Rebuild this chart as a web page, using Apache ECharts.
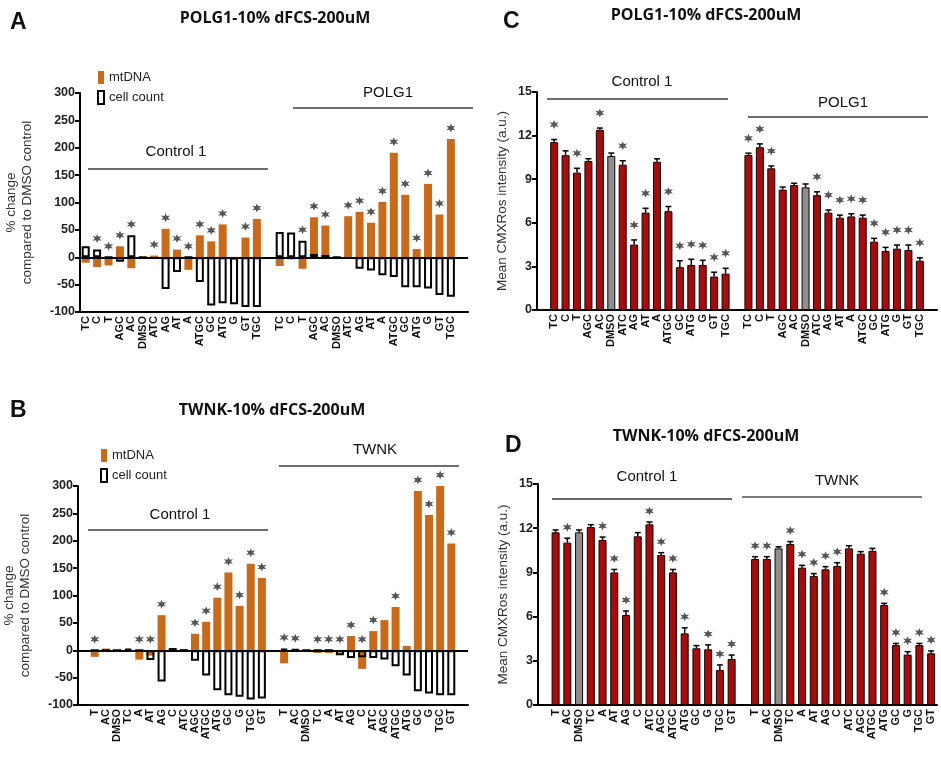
<!DOCTYPE html>
<html><head><meta charset="utf-8">
<script src="https://cdn.jsdelivr.net/npm/echarts@6/dist/echarts.min.js"></script>
<style>html,body{margin:0;padding:0;background:#fff}#c{width:941px;height:760px}</style>
</head><body><div id="c"></div>
<script>
// ---------- categories ----------
const catsAC = ['TC','C','T','AGC','AC','DMSO','ATC','AG','AT','A','ATGC','GC','ATG','G','GT','TGC'];
const catsBD = ['T','AC','DMSO','TC','A','AT','AG','C','ATC','AGC','ATGC','ATG','GC','G','TGC','GT'];
const yTicksAB = [-100, 300, 50];
const yTicksCD = [0, 15, 3];

// ---------- Panel A (POLG1, % change) ----------
const A_ctrl_mt   = [-10,-18,-15,20,-20,0,3,52,14,-23,40,29,60,-5,36,70];
const A_ctrl_cell = [20,14,0,-8,40,0,-3,-58,-27,0,-45,-88,-84,-86,-91,-91];
const A_ctrl_star = [0,1,1,1,1,0,1,1,1,1,1,1,1,0,1,1];
const A_pol_mt    = [-16,-4,-21,73,58,0,75,83,63,101,191,114,15,134,78,216];
const A_pol_cell  = [46,45,30,6,4,0,-3,-21,-24,-33,-36,-55,-55,-57,-69,-72];
const A_pol_star  = [0,0,1,1,1,0,1,1,1,1,1,1,1,1,1,1];

// ---------- Panel B (TWNK, % change) ----------
const B_ctrl_mt   = [-12,3,0,0,-17,-10,64,0,2,30,52,96,142,81,158,132];
const B_ctrl_cell = [0,0,0,3,0,-18,-57,4,0,-19,-46,-73,-82,-85,-90,-88];
const B_ctrl_star = [1,0,0,0,1,1,1,0,0,1,1,1,1,1,1,1];
const B_tw_mt     = [-24,2,0,-5,-5,-4,26,-34,35,55,79,8,291,247,300,195];
const B_tw_cell   = [3,2,0,0,0,-9,-14,-13,-14,-17,-29,-46,-75,-79,-82,-82];
const B_tw_star   = [1,1,0,1,1,1,1,1,1,0,1,0,1,1,1,1];

// ---------- Panel C (POLG1, CMXRos) ----------
const C_ctrl      = [11.55,10.65,9.45,10.25,12.4,10.6,10.0,4.5,6.7,10.2,6.8,2.95,3.1,3.1,2.3,2.5];
const C_ctrl_err  = [0.18,0.3,0.3,0.16,0.12,0.2,0.27,0.32,0.3,0.2,0.32,0.44,0.39,0.32,0.3,0.37];
const C_ctrl_star = [1,0,1,0,1,0,1,1,1,0,1,1,1,1,1,1];
const C_pol       = [10.67,11.2,9.75,8.28,8.6,8.44,7.9,6.7,6.35,6.44,6.35,4.7,4.06,4.22,4.13,3.39];
const C_pol_err   = [0.12,0.23,0.16,0.18,0.12,0.23,0.23,0.18,0.18,0.18,0.18,0.23,0.25,0.25,0.34,0.2];
const C_pol_star  = [1,1,1,0,0,0,1,1,1,1,1,1,1,1,1,1];

// ---------- Panel D (TWNK, CMXRos) ----------
const D_ctrl      = [11.72,11.02,11.72,12.08,11.2,9.0,6.11,11.45,12.26,10.18,9.0,4.86,3.85,3.78,2.38,3.12];
const D_ctrl_err  = [0.16,0.3,0.16,0.16,0.2,0.2,0.27,0.25,0.16,0.16,0.2,0.38,0.18,0.3,0.34,0.27];
const D_ctrl_star = [0,1,0,0,1,1,1,0,1,1,1,1,0,1,1,1];
const D_tw        = [9.91,9.91,10.63,10.93,9.32,8.76,9.21,9.43,10.63,10.27,10.47,6.79,4.07,3.42,4.07,3.51];
const D_tw_err    = [0.16,0.16,0.11,0.16,0.16,0.16,0.18,0.23,0.18,0.14,0.16,0.11,0.11,0.2,0.11,0.16];
const D_tw_star   = [1,1,0,1,1,1,1,1,0,0,0,1,1,1,1,1];

// ---------- styling / helpers ----------
const ORANGE = '#C96A1A', RED = '#A30D0D', GREY = '#8E8E8E';
const FONT = 'Arial, "Liberation Sans", sans-serif';
function combine(ctrl, grp, lead, trail, fill) {
  return [].concat(lead ? [fill] : [], ctrl, [fill], grp, trail ? [fill] : []);
}
function starPath() {
  const p = [];
  for (let k = 0; k < 12; k++) {
    const a = (-90 + k * 30) * Math.PI / 180, r = k % 2 === 0 ? 10 : 4.5;
    p.push((10 + r * Math.cos(a)).toFixed(2) + ' ' + (10 + r * Math.sin(a)).toFixed(2));
  }
  return 'path://M' + p.join(' L') + ' Z';
}
const STAR = starPath();

const panels = [
  {type:'pct', cats: catsAC, lead:false, trail:true, grid:{left:80, top:93, width:388, height:219},
   mt:[A_ctrl_mt, A_pol_mt], cell:[A_ctrl_cell, A_pol_cell], star:[A_ctrl_star, A_pol_star],
   legend:{left:92, top:66}},
  {type:'pct', cats: catsBD, lead:true, trail:true, grid:{left:71, top:486, width:397, height:219},
   mt:[B_ctrl_mt, B_tw_mt], cell:[B_ctrl_cell, B_tw_cell], star:[B_ctrl_star, B_tw_star],
   legend:{left:95, top:444}},
  {type:'cmx', cats: catsAC, lead:true, trail:true, grid:{left:537, top:92, width:400, height:218},
   val:[C_ctrl, C_pol], err:[C_ctrl_err, C_pol_err], star:[C_ctrl_star, C_pol_star], starOff:-15},
  {type:'cmx', cats: catsBD, lead:true, trail:false, grid:{left:538, top:484, width:399, height:221},
   val:[D_ctrl, D_tw], err:[D_ctrl_err, D_tw_err], star:[D_ctrl_star, D_tw_star], starOff:-11}
];

const grids = [], xAxes = [], yAxes = [], series = [], legends = [];
panels.forEach((p, gi) => {
  grids.push(Object.assign({containLabel:false}, p.grid));
  const cats = combine(p.cats, p.cats, p.lead, p.trail, '');
  const off0 = p.lead ? 1 : 0, off1 = off0 + 17;
  xAxes.push({
    gridIndex: gi, type:'category', data: cats, boundaryGap: true,
    axisLine: {onZero:false, lineStyle:{color:'#000', width:2}},
    axisTick: {alignWithLabel:true, interval:(i, v) => v !== '', length:5, lineStyle:{color:'#000', width:1.5}},
    axisLabel: {interval:0, rotate:90, margin:4, fontSize:11, fontWeight:'bold', fontFamily:FONT, color:'#111'},
    splitLine: {show:false}
  });
  const pct = p.type === 'pct';
  const yt = pct ? yTicksAB : yTicksCD;
  yAxes.push({
    gridIndex: gi, type:'value', min: yt[0], max: yt[1], interval: yt[2],
    axisLine: {show:true, lineStyle:{color:'#000', width:2}},
    axisTick: {show:true, length:5, lineStyle:{color:'#000', width:2}},
    axisLabel: {fontSize:12.5, fontWeight:'bold', fontFamily:FONT, color:'#222', margin:5},
    splitLine: {show:false},
    name: pct ? '% change\ncompared to DMSO control' : 'Mean CMXRos intensity (a.u.)',
    nameLocation:'middle', nameRotate:90, nameGap: pct ? 45 : 27,
    nameTextStyle: {fontSize:13.5, fontFamily:FONT, color:'#333', lineHeight:16}
  });
  const idxOf = (g, i) => (g === 0 ? off0 : off1) + i;
  if (pct) {
    const mt = combine(p.mt[0], p.mt[1], p.lead, p.trail, '-');
    const cell = combine(p.cell[0], p.cell[1], p.lead, p.trail, '-');
    series.push({type:'bar', name:'mtDNA', xAxisIndex:gi, yAxisIndex:gi, data: mt, barWidth:8, barGap:'-100%',
      itemStyle:{color:ORANGE}, z:2,
      markLine:{silent:true, symbol:'none', label:{show:false}, lineStyle:{color:'#000', width:2, type:'solid'}, data:[{yAxis:0}]}});
    series.push({type:'bar', name:'cell count', xAxisIndex:gi, yAxisIndex:gi, data: cell, barWidth:8, barGap:'-100%',
      itemStyle:{color:'rgba(255,255,255,0)', borderColor:'#000', borderWidth:2}, z:3});
    const stars = [];
    [0,1].forEach(g => p.star[g].forEach((s, i) => {
      if (s) stars.push([idxOf(g, i), Math.max(p.mt[g][i], p.cell[g][i], 0)]);
    }));
    series.push({type:'scatter', xAxisIndex:gi, yAxisIndex:gi, data: stars, symbol: STAR, symbolSize:9,
      symbolOffset:[0,-11], itemStyle:{color:'#2a2a2a'}, z:4, silent:true});
    legends.push({left:p.legend.left, top:p.legend.top, orient:'vertical', itemGap:6, itemWidth:6, itemHeight:13,
      icon:'rect', data:['mtDNA','cell count'], selectedMode:false,
      textStyle:{fontSize:13, fontFamily:FONT, color:'#222'}});
  } else {
    const isD = (g, i) => p.cats[i] === 'DMSO';
    const vals = [];
    if (p.lead) vals.push('-');
    [0,1].forEach(g => {
      p.val[g].forEach((v, i) => vals.push(isD(g, i) ? {value:v, itemStyle:{color:GREY}} : v));
      if (g === 0 || p.trail) vals.push('-');
    });
    series.push({type:'bar', name:'CMXRos', xAxisIndex:gi, yAxisIndex:gi, data: vals, barWidth:8,
      itemStyle:{color:RED, borderColor:'#1a0000', borderWidth:1}, z:2});
    const eb = [], stars = [];
    [0,1].forEach(g => p.val[g].forEach((v, i) => {
      eb.push([idxOf(g, i), v, p.err[g][i]]);
      if (p.star[g][i]) stars.push([idxOf(g, i), v + p.err[g][i]]);
    }));
    series.push({type:'custom', xAxisIndex:gi, yAxisIndex:gi, data: eb, z:3, silent:true,
      encode:{x:0, y:1},
      renderItem: (params, api) => {
        const x = api.value(0), v = api.value(1), e = api.value(2);
        const b = api.coord([x, v]), t = api.coord([x, v + e]);
        return {type:'group', children:[
          {type:'line', shape:{x1:b[0], y1:b[1], x2:t[0], y2:t[1]}, style:{stroke:'#000', lineWidth:1.5}},
          {type:'line', shape:{x1:t[0]-3, y1:t[1], x2:t[0]+3, y2:t[1]}, style:{stroke:'#000', lineWidth:1.5}}
        ]};
      }});
    series.push({type:'scatter', xAxisIndex:gi, yAxisIndex:gi, data: stars, symbol: STAR, symbolSize:9,
      symbolOffset:[0, p.starOff], itemStyle:{color:'#2a2a2a'}, z:4, silent:true});
  }
});

// ---------- annotations (letters, titles, group brackets) ----------
function txt(text, x, y, font, align) {
  return {type:'text', x:x, y:y, silent:true, style:{text:text, font:font, fill:'#111',
    align: align || 'center', verticalAlign:'middle', textAlign: align || 'center', textVerticalAlign:'middle'}};
}
function ln(x1, x2, y, c, w) {
  return {type:'line', silent:true, shape:{x1:x1, y1:y, x2:x2, y2:y}, style:{stroke:c || '#6e6e6e', lineWidth:w || 2}};
}
const LET = 'bold 23px ' + FONT, TIT = 'bold 16px "Open Sans", sans-serif', GRP = '15px ' + FONT;
const graphic = [
  txt('A', 10, 23, LET, 'left'), txt('POLG1-10% dFCS-200uM', 275, 18, TIT),
  txt('C', 503, 22, LET, 'left'), txt('POLG1-10% dFCS-200uM', 706, 15, TIT),
  txt('B', 10, 411, LET, 'left'), txt('TWNK-10% dFCS-200uM', 272, 410, TIT),
  txt('D', 505, 446, LET, 'left'), txt('TWNK-10% dFCS-200uM', 706, 436, TIT),
  txt('Control 1', 176, 152, GRP), ln(88, 268, 169),
  txt('POLG1', 388, 93, GRP), ln(293, 473, 108),
  txt('Control 1', 180, 515, GRP), ln(88, 268, 530),
  txt('TWNK', 375, 450, GRP), ln(279, 459, 466),
  txt('Control 1', 642, 82, GRP), ln(547, 728, 99),
  txt('POLG1', 843, 103, GRP), ln(748, 928, 117),
  txt('Control 1', 647, 477, GRP), ln(552, 732, 499, '#333', 1.5),
  txt('TWNK', 837, 481, GRP), ln(742, 922, 497, '#555', 1.5)
];

const chart = echarts.init(document.getElementById('c'), null, {renderer:'canvas'});
chart.setOption({
  animation:false, backgroundColor:'#fff',
  grid: grids, xAxis: xAxes, yAxis: yAxes, series: series, legend: legends, graphic: graphic
});
</script></body></html>
